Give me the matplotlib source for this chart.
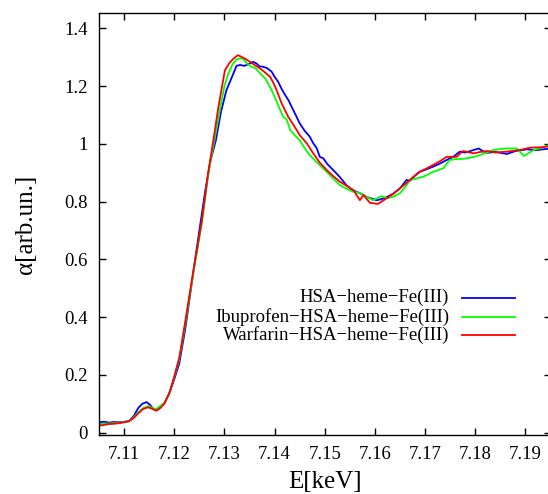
import numpy as np
import matplotlib
matplotlib.use("Agg")
import matplotlib.pyplot as plt
from matplotlib.lines import Line2D

plt.rcParams["font.family"] = ["Liberation Serif", "DejaVu Serif"]

# HSA-heme-Fe(III)
e_hsa = [7.1050, 7.1060, 7.1070, 7.1080, 7.1090, 7.1100, 7.1110, 7.1120, 7.1128, 7.1136,
         7.1145, 7.1152, 7.1158, 7.1164, 7.1172, 7.1180, 7.1190, 7.1200, 7.1210, 7.1222,
         7.1235, 7.1250, 7.1262, 7.1272, 7.1283, 7.1293, 7.1304, 7.1318, 7.1324, 7.1331,
         7.1340, 7.1348, 7.1357, 7.1364, 7.1370, 7.1377, 7.1385, 7.1394, 7.1400, 7.1407,
         7.1414, 7.1421, 7.1428, 7.1434, 7.1442, 7.1450, 7.1460, 7.1470, 7.1477, 7.1484,
         7.1490, 7.1497, 7.1505, 7.1517, 7.1530, 7.1543, 7.1555, 7.1570, 7.1585, 7.1603,
         7.1612, 7.1623, 7.1637, 7.1650, 7.1663, 7.1670, 7.1680, 7.1689, 7.1700, 7.1716,
         7.1730, 7.1743, 7.1756, 7.1769, 7.1780, 7.1790, 7.1807, 7.1815, 7.1824, 7.1840,
         7.1863, 7.1880, 7.1903, 7.1920, 7.1950]
a_hsa = [0.036, 0.038, 0.035, 0.037, 0.036, 0.038, 0.040, 0.060, 0.085, 0.100,
         0.106, 0.096, 0.082, 0.078, 0.090, 0.102, 0.136, 0.185, 0.240, 0.360,
         0.520, 0.700, 0.840, 0.940, 1.013, 1.110, 1.186, 1.244, 1.270, 1.273,
         1.270, 1.276, 1.284, 1.278, 1.268, 1.267, 1.262, 1.250, 1.232, 1.215,
         1.190, 1.169, 1.150, 1.128, 1.100, 1.071, 1.045, 1.025, 1.002, 0.985,
         0.955, 0.950, 0.930, 0.909, 0.885, 0.857, 0.840, 0.829, 0.815, 0.805,
         0.808, 0.815, 0.828, 0.846, 0.875, 0.872, 0.890, 0.903, 0.910, 0.921,
         0.932, 0.944, 0.955, 0.973, 0.970, 0.975, 0.984, 0.975, 0.969, 0.972,
         0.965, 0.975, 0.981, 0.978, 0.984]

# Ibuprofen-HSA-heme-Fe(III)
e_ibu = [7.1050, 7.1060, 7.1070, 7.1080, 7.1090, 7.1100, 7.1110, 7.1120, 7.1128, 7.1138,
         7.1148, 7.1156, 7.1164, 7.1172, 7.1180, 7.1190, 7.1200, 7.1210, 7.1221, 7.1238,
         7.1255, 7.1268, 7.1280, 7.1292, 7.1300, 7.1308, 7.1316, 7.1324, 7.1331, 7.1338,
         7.1345, 7.1354, 7.1362, 7.1371, 7.1381, 7.1390, 7.1397, 7.1407, 7.1417, 7.1424,
         7.1431, 7.1440, 7.1450, 7.1460, 7.1470, 7.1485, 7.1504, 7.1517, 7.1530, 7.1543,
         7.1557, 7.1570, 7.1583, 7.1596, 7.1605, 7.1613, 7.1625, 7.1636, 7.1650, 7.1660,
         7.1670, 7.1683, 7.1696, 7.1716, 7.1736, 7.1749, 7.1760, 7.1775, 7.1790, 7.1804,
         7.1820, 7.1837, 7.1860, 7.1883, 7.1897, 7.1917, 7.1930, 7.1950]
a_ibu = [0.030, 0.031, 0.032, 0.033, 0.034, 0.037, 0.040, 0.055, 0.070, 0.085,
         0.092, 0.086, 0.082, 0.092, 0.103, 0.138, 0.192, 0.255, 0.367, 0.552,
         0.725, 0.898, 1.013, 1.128, 1.200, 1.244, 1.275, 1.292, 1.296, 1.294,
         1.278, 1.267, 1.262, 1.244, 1.227, 1.200, 1.175, 1.134, 1.094, 1.085,
         1.048, 1.030, 1.013, 0.985, 0.961, 0.935, 0.903, 0.880, 0.857, 0.845,
         0.834, 0.830, 0.817, 0.805, 0.812, 0.819, 0.812, 0.817, 0.829, 0.850,
         0.875, 0.880, 0.886, 0.903, 0.915, 0.944, 0.947, 0.948, 0.952, 0.958,
         0.968, 0.979, 0.984, 0.984, 0.958, 0.979, 0.985, 0.998]

# Warfarin-HSA-heme-Fe(III)
e_war = [7.1050, 7.1060, 7.1070, 7.1080, 7.1090, 7.1100, 7.1110, 7.1120, 7.1128, 7.1138,
         7.1148, 7.1156, 7.1164, 7.1172, 7.1180, 7.1190, 7.1198, 7.1210, 7.1221, 7.1238,
         7.1255, 7.1268, 7.1278, 7.1288, 7.1301, 7.1310, 7.1318, 7.1327, 7.1340, 7.1351,
         7.1361, 7.1371, 7.1381, 7.1391, 7.1398, 7.1404, 7.1414, 7.1427, 7.1436, 7.1444,
         7.1450, 7.1464, 7.1477, 7.1490, 7.1504, 7.1517, 7.1530, 7.1545, 7.1557, 7.1570,
         7.1577, 7.1590, 7.1606, 7.1623, 7.1637, 7.1650, 7.1663, 7.1676, 7.1689, 7.1703,
         7.1716, 7.1730, 7.1743, 7.1763, 7.1775, 7.1785, 7.1797, 7.1810, 7.1824, 7.1840,
         7.1863, 7.1890, 7.1910, 7.1930, 7.1950]
a_war = [0.024, 0.027, 0.030, 0.031, 0.033, 0.036, 0.040, 0.052, 0.067, 0.082,
         0.088, 0.083, 0.076, 0.085, 0.100, 0.136, 0.182, 0.260, 0.375, 0.560,
         0.735, 0.905, 1.013, 1.128, 1.255, 1.280, 1.295, 1.307, 1.296, 1.284,
         1.272, 1.261, 1.247, 1.232, 1.210, 1.186, 1.140, 1.094, 1.070, 1.048,
         1.030, 1.002, 0.967, 0.935, 0.909, 0.888, 0.869, 0.853, 0.840, 0.805,
         0.823, 0.796, 0.792, 0.811, 0.828, 0.846, 0.865, 0.885, 0.903, 0.915,
         0.927, 0.940, 0.955, 0.955, 0.975, 0.972, 0.967, 0.972, 0.975, 0.970,
         0.973, 0.979, 0.987, 0.988, 0.992]

labels = ["HSA\u2212heme\u2212Fe(III)", "Ibuprofen\u2212HSA\u2212heme\u2212Fe(III)",
          "Warfarin\u2212HSA\u2212heme\u2212Fe(III)"]
colors = ["#0000ff", "#00ff00", "#ff0000"]

xticks = [7.11, 7.12, 7.13, 7.14, 7.15, 7.16, 7.17, 7.18, 7.19]
xticklabels = ["7.11", "7.12", "7.13", "7.14", "7.15", "7.16", "7.17", "7.18", "7.19"]
yticks = [0, 0.2, 0.4, 0.6, 0.8, 1.0, 1.2, 1.4]
yticklabels = ["0", "0.2", "0.4", "0.6", "0.8", "1", "1.2", "1.4"]

fig = plt.figure(figsize=(5.48, 4.94), dpi=100)
ax = fig.add_axes([0.1807, 0.1194, 1.0046 - 0.1807, 0.9737 - 0.1194])

series = [(e_hsa, a_hsa), (e_ibu, a_ibu), (e_war, a_war)]
for (e, a), c in zip(series, colors):
    ax.plot(e, a, color=c, linewidth=1.3)

ax.set_xlim(7.105, 7.195)
ax.set_ylim(-0.008, 1.453)
ax.set_xticks(xticks)
ax.set_xticklabels(xticklabels)
ax.set_yticks(yticks)
ax.set_yticklabels(yticklabels)
ax.tick_params(direction="in", length=5, width=1, labelsize=13.5, top=True, right=True, pad=8)
for s in ax.spines.values():
    s.set_linewidth(1)

ax.set_xlabel("E[keV]", fontsize=18)
ax.xaxis.set_label_coords(0.5, -0.086)
ax.set_ylabel("\u03b1[arb.un.]", fontsize=18)
ax.yaxis.set_label_coords(-0.137, 0.5)

# legend, gnuplot style: text right aligned, sample to the right
rows_y = [1 - 297.7 / 494, 1 - 316.7 / 494, 1 - 335 / 494]
for lab, c, y in zip(labels, colors, rows_y):
    fig.text(449 / 548, y, lab, ha="right", va="center", fontsize=13.5)
    fig.add_artist(Line2D([461.7 / 548, 514.7 / 548], [y, y], color=c, linewidth=1.3,
                          transform=fig.transFigure))

fig.savefig("out.png", dpi=100)
